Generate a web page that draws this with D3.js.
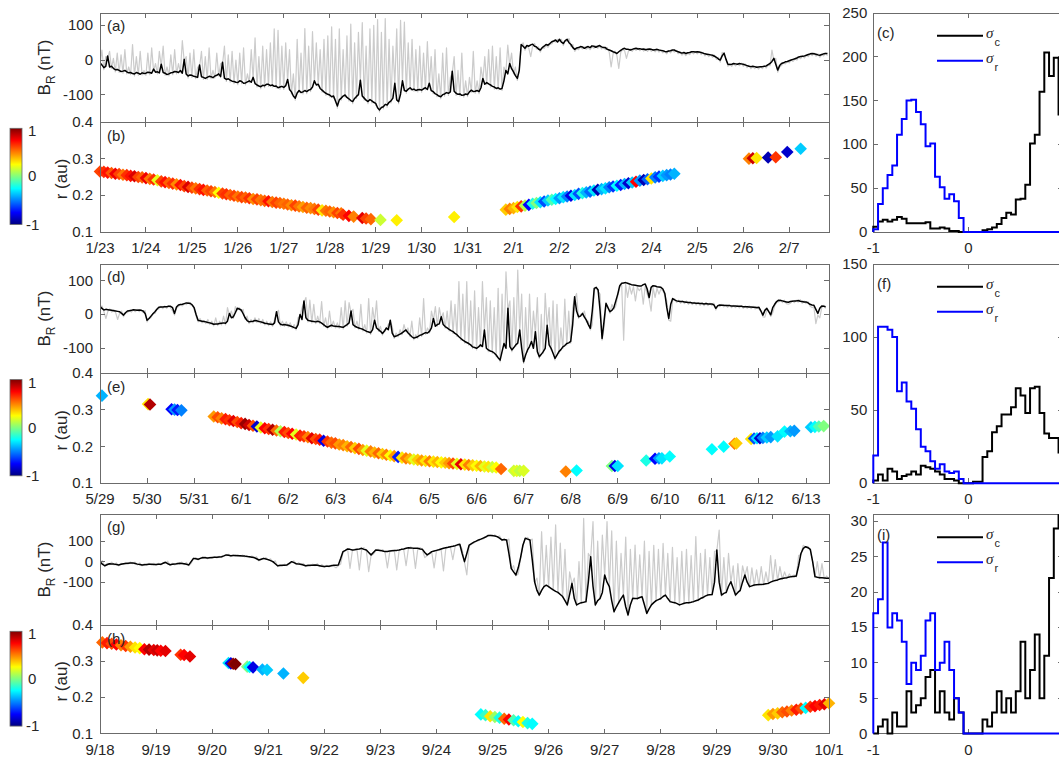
<!DOCTYPE html>
<html>
<head>
<meta charset="utf-8">
<script src="https://cdn.jsdelivr.net/npm/d3@7"></script>
<style>
  body { margin: 0; background: #fff; }
  svg { display: block; }
  text { font-family: "Liberation Sans", Arial, Helvetica, sans-serif; fill: #262626; }
</style>
</head>
<body>
<script>
// ---------------- B_R time series (nT) ----------------
// gray: full-rate hourly samples, black: smoothed hourly samples, both starting at 00:00 of the first day
const grayStepH = 1, blackStepH = 1;

const brJanBlack = [
  -8,-14,-22,-18,12,-20,-18,-24,-28,-27,-30,-33,-32,-30,-34,-37,-36,-39,-40,-36,-38,-41,-37,-39,
  -38,-35,-36,-38,-26,-35,-34,-37,-12,-36,-38,-42,-40,-37,-36,-33,-34,-36,-30,-38,2,-40,-46,-43,
  -44,-47,-48,-50,-14,-48,-50,-53,-50,-47,-48,-51,-46,-44,-40,-48,-6,-52,-56,-54,-58,-61,-62,-64,
  -65,-60,-62,-67,-66,-63,-60,-64,-50,-68,-72,-75,-77,-73,-74,-70,-70,-74,-72,-76,-75,-80,-78,-76,
  -79,-74,-56,-85,-92,-104,-110,-95,-88,-94,-92,-88,-91,-87,-85,-78,-60,-72,-70,-82,-87,-92,-96,-99,
  -101,-106,-104,-118,-133,-115,-110,-104,-101,-108,-112,-117,-120,-111,-105,-100,-58,-104,-110,-116,-120,-114,-118,-122,
  -125,-138,-144,-137,-135,-128,-130,-122,-118,-110,-67,-115,-120,-98,-60,-88,-90,-84,-80,-86,-84,-88,-86,-85,
  -87,-83,-80,-85,-67,-88,-91,-97,-100,-104,-106,-100,-98,-94,-96,-92,-32,-90,-96,-99,-98,-102,-101,-98,
  -100,-92,-87,-91,-90,-88,-91,-80,-53,-70,-65,-69,-72,-76,-78,-82,-80,-84,-82,-60,-30,-40,-10,-25,
  -34,-45,-53,-30,45,40,34,42,40,44,46,40,38,32,29,36,40,45,43,48,53,55,58,52,
  60,52,48,56,60,50,45,36,31,35,36,39,38,34,37,39,36,41,40,37,40,42,38,36,
  36,31,29,27,24,22,19,24,28,32,34,31,31,29,31,33,34,32,33,31,32,30,31,32,
  31,29,30,31,29,28,27,25,24,26,27,29,29,26,24,22,20,22,19,21,22,24,24,23,
  24,23,22,20,18,17,16,15,14,11,8,3,0,12,20,2,-12,-13,-12,-10,-11,-12,-10,-11,
  -12,-14,-16,-18,-19,-18,-19,-21,-20,-19,-19,-18,-17,-13,-10,-4,5,-12,-29,-16,-10,-8,-5,-4,
  -2,0,2,4,6,9,10,11,12,14,16,18,19,18,17,15,14,16,18,19,19
];
const brJanGray = [
  -14,29,-28,10,6,25,-24,5,-34,20,-36,15,-38,30,-40,-20,-42,45,-46,10,-44,25,-43,-30,
  -44,20,-42,35,-32,-10,-40,25,-18,40,-44,-20,-46,15,-42,30,-40,-10,-36,56,-4,10,-52,20,
  -50,30,-54,-20,-20,25,-56,10,-56,35,-54,-30,-52,20,-46,-10,-12,40,-62,15,-64,25,-68,0,
  -71,20,-68,35,-72,-40,-66,30,-56,64,-78,10,-83,40,-80,30,-76,50,-78,90,-81,86,-84,40,
  -85,50,-62,30,-98,-40,-116,60,-94,20,-98,91,-97,40,-91,82,-66,50,-76,30,-93,60,-102,70,
  -107,96,-110,60,-139,90,-116,30,-107,70,-118,104,-126,50,-111,80,-64,108,-116,40,-126,90,-124,100,
  -131,117,-150,80,-141,120,-136,60,-124,40,-73,90,-126,115,-66,110,-96,50,-86,60,-90,30,-92,40,
  -93,20,-86,53,-73,10,-97,30,-106,-40,-112,20,-104,35,-102,-50,-38,10,-102,-30,-104,20,-107,-60,
  -106,-50,-93,25,-96,-60,-97,-20,-59,10,-71,30,-78,40,-84,10,-86,35,-88,-20,-36,43,-16,20,
  -40,-20,-59,-30,39,50,28,40,34,10,40,48,32,38,23,35,34,42,37,45,47,55,52,60,
  54,60,42,55,54,62,39,45,25,33,30,38,32,38,31,36,30,38,34,42,34,40,32,38,
  30,36,23,-20,18,26,13,-24,22,30,28,5,25,32,25,33,28,35,27,33,26,32,25,31,
  25,31,24,30,23,28,21,26,18,27,21,28,23,28,18,24,14,20,13,20,16,23,18,24,
  18,24,16,22,12,18,10,15,8,14,2,8,-6,22,14,5,-18,-10,-18,-10,-17,-10,-16,-9,
  -18,-11,-22,-15,-25,-18,-25,-18,-26,-19,-25,-17,-23,-15,-16,29,-1,5,-35,-20,-16,-8,-11,-4,
  -8,0,-4,3,0,8,4,12,6,14,10,18,13,20,11,18,8,16,12,20,13
];

const brJunBlack = [
  23,18,13,15,14,13,12,11,10,9,8,3,-2,5,10,11,12,14,13,12,13,12,10,3,
  -17,-12,-5,2,8,15,21,22,22,23,23,24,24,20,3,22,28,29,30,32,34,33,33,28,
  20,0,-17,-19,-20,-21,-22,-24,-25,-27,-29,-28,-28,-27,-26,-25,-26,-20,3,-10,-7,5,18,16,
  13,2,-10,-18,-22,-21,-20,-18,-19,-21,-22,-24,-26,-27,-28,-29,-30,-25,8,-22,-29,-31,-30,-31,
  -32,-34,-36,-39,-41,-30,0,-15,40,-10,-17,-19,-20,-21,-22,-20,-22,-26,-30,-35,-38,-35,-32,-34,
  -35,-36,-36,-37,-38,-34,-30,-25,10,-30,-35,-38,-40,-42,-44,-47,-50,-52,-54,-45,-17,-40,-45,-50,
  -56,-50,-40,-45,-17,-55,-66,-64,-61,-58,-55,-50,-46,-54,-60,-66,-70,-68,-66,-62,-60,-57,-54,-55,
  -50,-40,-12,-35,-30,-28,-7,-30,-36,-40,-44,-48,-51,-56,-60,-66,-71,-76,-80,-83,-86,-90,-96,-98,
  -100,-96,-90,-95,-46,-100,-105,-108,-110,-114,-120,-128,-135,-110,-86,-100,18,-95,-105,-98,-90,-85,-46,-100,
  -140,-120,-105,-95,-80,-100,-51,-110,-125,-118,-110,-100,-32,-90,-100,-115,-130,-120,-110,-104,-96,-92,-86,-84,
  -80,-30,52,10,-7,-5,3,-8,-17,-30,-41,10,77,80,72,10,-71,-20,33,20,8,12,20,40,
  60,85,92,93,94,92,90,88,87,86,85,84,84,88,90,75,50,80,85,84,82,81,80,75,
  62,20,-12,30,47,43,40,39,38,38,37,36,35,35,34,34,33,33,32,32,31,32,31,31,
  31,28,18,26,28,27,27,26,26,26,25,25,25,24,24,24,23,23,23,22,22,21,21,20,
  21,10,-2,12,18,8,-1,20,30,38,42,41,40,38,37,36,38,39,40,40,41,39,38,37,
  37,34,30,28,27,15,3,18,25,24,23
];
const brJunGray = [
  18,25,8,-12,9,16,7,14,5,-15,3,10,-7,4,5,12,7,14,8,15,8,14,5,12,
  -22,-12,-10,2,3,14,16,24,17,25,18,26,19,10,-2,18,23,30,25,32,29,36,28,30,
  15,-5,-22,-12,-25,-18,-27,-15,-30,-20,-34,-10,-33,-20,-31,-5,-31,20,-2,10,-12,23,13,20,
  8,15,-15,-5,-27,-15,-25,-10,-24,-12,-27,-15,-31,-20,-33,-22,-35,-15,3,12,-34,-20,-35,-22,
  -37,-25,-41,-30,-46,-10,-5,20,35,50,-22,42,-25,30,-27,-5,-27,38,-35,-10,-43,10,-37,-20,
  -40,-25,-41,20,-43,40,-35,35,5,15,-40,-20,-45,30,-49,-30,-55,47,-59,20,-22,40,-50,-35,
  -61,-45,-45,-30,-22,-35,-71,-55,-66,-45,-60,-30,-51,-40,-65,-20,-75,-60,-71,-10,-65,47,-59,-40,
  -55,10,-17,23,-35,20,-12,5,-41,10,-49,40,-56,30,-65,97,-76,60,-85,97,-91,40,-101,70,
  -105,20,-95,97,-51,50,-110,40,-115,20,-125,77,-140,60,-91,126,13,40,-110,50,-95,131,-51,60,
  -145,20,-110,60,-85,10,-56,50,-130,0,-115,62,-37,20,-105,40,-135,30,-115,-40,-101,45,-91,10,
  -85,20,47,62,-12,0,-2,10,-22,-20,-46,-30,72,80,67,60,-76,-40,28,20,3,30,15,25,
  55,80,87,-76,89,50,85,60,82,40,80,70,79,30,85,60,45,10,80,50,77,60,75,70,
  57,40,-17,-20,42,46,35,42,33,40,32,40,30,37,29,36,28,35,27,35,26,34,26,33,
  26,33,13,25,23,30,22,29,21,28,20,27,20,27,19,26,18,25,18,25,17,24,16,23,
  16,10,-7,-8,13,10,-6,5,25,36,37,44,35,42,32,30,33,40,35,42,36,44,33,40,
  32,38,25,20,22,-27,-2,-10,20,27,18
];

const brSepBlack = [
  0,-12,-20,-15,-10,-11,-12,-14,-16,-13,-10,-9,-8,-7,-6,-9,-12,-14,-16,-15,-14,-13,-13,-14,
  -14,-13,-13,-8,-3,-10,-15,-13,-12,-10,-8,-9,-10,-13,-16,0,16,14,12,16,20,19,18,19,
  20,21,22,23,24,28,33,31,29,30,30,29,29,28,27,25,24,22,20,14,8,12,16,13,
  10,5,0,-10,-20,-19,-18,-17,-16,-8,0,-5,-10,-12,-13,-16,-20,-19,-18,-17,-16,-18,-20,-22,
  -24,-23,-22,-20,-18,-17,-16,15,49,55,62,60,57,58,60,62,65,60,57,45,33,45,57,56,
  55,52,49,50,52,53,54,55,57,60,62,65,68,67,66,66,65,62,60,45,33,40,49,52,
  55,58,62,65,68,70,73,75,78,82,85,40,0,40,81,88,95,100,106,110,115,120,127,128,
  127,125,122,115,106,108,106,40,-33,-50,-65,-30,20,80,114,110,106,10,-98,-140,-163,-140,-122,-115,
  -122,-130,-138,-145,-150,-160,-170,-190,-211,-160,-106,-180,-211,-205,-200,-198,-195,-100,24,-120,-211,-190,-180,-150,
  -65,-100,-122,-190,-244,-220,-200,-180,-163,-220,-260,-210,-179,-180,-180,-175,-171,-210,-252,-230,-211,-200,-190,-185,
  -180,-170,-163,-180,-195,-198,-200,-205,-211,-207,-203,-201,-200,-198,-195,-191,-187,-180,-175,-168,-163,-161,-160,-100,
  57,-100,-163,-155,-150,-120,-98,-130,-163,-150,-140,-100,-65,-100,-122,-118,-114,-113,-112,-111,-110,-108,-106,-100,
  -95,-92,-89,-85,-82,-80,-78,-75,-73,-72,-70,-20,40,65,73,68,60,0,-73,-76,-78,-79,-80,-81,
  -81
];
const brSepGray = [
  -4,5,-24,-8,-14,-2,-16,-6,-20,-8,-14,-4,-12,-2,-10,-2,-16,-6,-20,-10,-18,-8,-17,-8,
  -18,-8,-17,-6,-7,2,-19,-8,-16,-6,-12,-2,-14,-4,-20,-8,12,20,8,18,16,24,14,22,
  16,24,18,26,20,28,29,36,25,33,26,34,25,32,23,30,20,28,16,24,4,12,12,20,
  6,14,-4,4,-24,-14,-22,-12,-20,-12,-4,4,-14,-5,-17,-8,-24,-14,-22,-12,-20,-10,-24,-14,
  -28,-18,-26,-16,-22,-30,-20,-12,45,53,58,-33,53,61,56,-40,61,69,53,-49,29,37,53,61,
  51,59,45,-30,48,56,50,-40,53,61,58,-20,64,72,62,-33,61,69,56,20,29,37,45,-30,
  51,59,58,-45,64,72,69,10,74,82,81,60,-4,-65,77,85,91,99,102,110,111,119,123,130,
  123,131,118,126,102,110,102,110,-37,-20,-69,-60,16,80,110,118,102,110,-102,-80,-167,146,-126,80,
  -126,120,-142,179,-154,90,-174,60,-215,-50,-110,-80,-215,0,-204,211,-199,40,20,195,-215,100,-184,130,
  -69,195,-126,150,-248,100,-204,40,-167,120,-264,60,-183,81,-184,33,-175,100,-256,50,-215,80,-194,60,
  -184,89,-167,40,-199,70,-204,20,-215,50,-207,60,-204,30,-199,122,-191,40,-179,60,-167,20,-164,50,
  53,154,-167,20,-154,40,-102,-20,-167,-10,-144,-20,-69,-24,-126,-30,-118,-40,-116,-24,-114,-50,-110,30,
  -99,10,-93,-24,-86,-50,-82,-60,-77,-65,-74,30,36,80,69,75,56,0,-77,0,-82,-10,-84,-70,
  -85
];

// ---------------- heliocentric distance r (au) with sigma colour ----------------
// continuous stretches: start hour, 2-hour cadence
const trackStepH = 2;
const janTrackStartH = 0;
const janTrackR = [
  .265,.264,.262,.261,.259,.258,.256,.255,.253,.252,.250,.249,
  .247,.245,.243,.241,.238,.236,.234,.232,.230,.228,.225,.223,
  .221,.219,.217,.215,.213,.211,.209,.207,.205,.203,.201,.199,
  .197,.195,.194,.192,.190,.189,.187,.185,.184,.182,.180,.179,
  .177,.175,.173,.172,.170,.168,.166,.165,.163,.161,.159,.158,
  .156,.154,.152,.151
];
const janTrackSigma = [
  .62,.66,.72,.58,.78,.62,.52,.66,.72,.82,.62,.56,
  .78,.52,.66,.2,.62,.72,.56,.66,.48,.72,.62,.82,
  .62,.52,.66,.72,.56,.62,.52,.25,.62,.66,.56,.62,
  .52,.62,.56,.66,.48,.62,.52,.56,.72,.52,.62,.56,
  .52,.56,.48,.62,.52,.44,.56,.48,.52,.62,.3,.52,
  .56,.48,.62,.52
];
const janTrack2StartH = 212;
const janTrack2R = [
  .161,.163,.165,.168,.170,.172,.174,.177,.179,.181,
  .183,.186,.188,.190,.192,.195,.197,.199,.201,.204,
  .206,.208,.210,.213,.215,.217,.219,.222,.224,.226,
  .228,.231,.233,.235,.237,.240,.242,.244,.246,.249,
  .251,.253,.255,.257,.259
];
const janTrack2Sigma = [
  .35,.5,.4,.3,.65,.1,-.75,-.2,0,-.3,
  -.6,-.35,-.1,-.25,-.45,-.3,-.5,-.8,-.3,-.6,
  -.2,-.4,-.55,-.3,-.9,-.4,-.3,-.5,-.65,-.25,
  -.7,-.4,-.85,-.35,.75,-.45,-.9,-.55,.3,-.5,
  -.65,-.35,-.45,-.5,-.4
];
// isolated samples: [hour, r, sigma]
const janSingles = [
  [127,.147,.65],[130,.144,.75],[132.5,.142,.5],[137,.138,.8],[139,.137,.62],[141.5,.135,.55],
  [146.5,.133,.15],[155,.132,.28],[185,.141,.28],
  [339,.300,.5],[341,.301,.85],[343,.302,.3],[349,.303,-.9],[353,.304,.65],[359,.318,-.85],[366,.327,-.35]
];

const junTrackStartH = 58;
const junTrackR = [
  .282,.280,.277,.275,.272,.270,.267,
  .264,.262,.259,.257,.255,.252,.250,.248,.246,.244,.242,.240,
  .237,.235,.233,.230,.228,.226,.223,.221,.219,.216,.214,.211,
  .209,.206,.204,.201,.199,.196,.194,.191,.189,.187,.184,.182,
  .180,.178,.176,.174,.172,.170,.168,.167,.165,.164,.162,.161,
  .160,.159,.158,.157,.156,.155,.154,.153,.152,.151,.150,.149,
  .148,.147,.146,.145,.144,.143
];
const junTrackSigma = [
  .45,.6,.5,.7,.65,.8,.6,
  .7,.95,.85,.6,-.85,.2,.75,.65,.9,.55,.1,.7,
  .6,.75,.2,.7,.65,.5,.8,.6,.7,-.8,.65,.55,
  .6,.45,.5,.4,.55,.35,.6,.45,.2,.5,.4,.55,
  .35,.5,.25,.45,-.7,.3,.5,.4,.2,.35,.45,.3,
  .5,.3,.4,.25,.35,.45,.6,.2,.8,.3,.5,.35,
  .25,.4,.2,.3,.15,.25
];
const junSingles = [
  [1,.339,-.4],[24.5,.316,.3],[25.5,.315,.9],[36.5,.302,-.75],[38,.301,-.45],[39.5,.300,-.7],[41.5,.299,-.5],
  [204.5,.139,.55],[211,.134,.15],[212.5,.134,.2],[214,.134,.12],[216,.134,.18],
  [237.5,.132,.5],[243,.135,-.25],
  [261,.147,0],[262.5,.147,-.8],[264,.147,-.3],
  [278.5,.162,-.2],[283,.167,-.75],[285,.168,-.45],[286.5,.168,-.3],[290.5,.173,-.25],
  [312,.193,-.25],[318,.200,-.25],[323.5,.208,.5],[324.5,.209,.35],
  [332,.221,.3],[333.5,.222,-.6],[335,.223,-.3],[336.5,.223,-.85],[338,.224,-.5],[340,.225,-.35],[342,.226,-.45],[345.5,.228,-.3],
  [349,.241,-.25],[352,.242,-.4],[354,.243,-.45],
  [362.5,.253,-.35],[364.5,.254,-.25],[366.5,.255,-.1],[369,.256,0]
];

const sepTrackStartH = 163;
const sepTrackR = [.153,.151,.148,.146,.144,.141,.139,.137,.134,.132,.129,.127];
const sepTrackSigma = [-.25,-.15,.3,.05,-.2,.55,.75,-.1,-.25,.25,-.2,-.25];
const sepTrack2StartH = 286;
const sepTrack2R = [.151,.154,.156,.159,.161,.164,.166,.169,.171,.174,.176,.179,.181,.184];
const sepTrack2Sigma = [.3,.45,.35,.55,.6,.5,.7,.6,-.25,.65,.75,.7,.8,.4];
const sepSingles = [
  [1,.352,.55],[3,.350,.7],[5,.348,.6],[7,.346,.75],[9,.344,.5],[11,.342,.65],[13,.340,.45],[15,.338,.3],[17,.336,.25],
  [19,.333,.75],[21,.332,.9],[23,.331,.8],[24.5,.330,.85],[26,.329,.75],[28,.328,.8],
  [34.5,.318,.65],[36,.317,.75],[38.5,.313,.8],
  [55,.295,-.3],[56,.294,-.8],[57,.293,.95],[58,.292,1],
  [63,.285,0],[64,.284,-.25],[65.5,.283,-.8],
  [69.5,.277,-.4],[71.5,.276,-.35],[78.5,.266,-.4],[87,.254,.35]
];

// ---------------- histograms of sigma_c and sigma_r (bins of 0.05 on [-1, 1]) ----------------
const binStart = -1, binWidth = 0.05;
const histJanC = [6,12,14,12,14,17,15,10,10,10,10,11,4,4,5,4,1,1,0,0,
                  0,0,0,2,3,5,9,16,22,20,37,38,54,101,111,160,205,178,199,134];
const histJanR = [3,32,50,65,76,111,129,150,151,137,123,98,101,63,51,38,43,35,16,0,
                  0,0,0,0,0,0,0,0,0,0,0,0,0,0,0,0,0,0,0,0];
const histJunC = [2,6,2,10,8,3,5,6,8,6,12,11,10,8,6,3,3,2,0,0,
                  0,1,1,18,22,35,39,47,47,52,65,60,48,65,66,48,34,31,31,21];
const histJunR = [19,107,107,105,100,63,69,56,51,37,25,22,15,10,13,8,7,8,3,0,
                  0,0,0,0,0,0,0,0,0,0,0,0,0,0,0,0,0,0,0,0];
const histSepC = [0,1,2,0,3,1,1,6,3,4,5,8,9,3,6,3,2,5,3,0,
                  0,0,0,2,1,3,6,3,5,3,6,13,5,9,14,5,11,22,29,35];
const histSepR = [17,19,27,15,17,16,13,7,10,9,11,16,17,9,10,13,9,5,3,0,
                  0,0,0,0,0,0,0,0,0,0,0,0,0,0,0,0,0,0,0,0];

// ---------------- axis labels ----------------
const datesJan = ["1/23","1/24","1/25","1/26","1/27","1/28","1/29","1/30","1/31","2/1","2/2","2/3","2/4","2/5","2/6","2/7"];
const datesJun = ["5/29","5/30","5/31","6/1","6/2","6/3","6/4","6/5","6/6","6/7","6/8","6/9","6/10","6/11","6/12","6/13"];
const datesSep = ["9/18","9/19","9/20","9/21","9/22","9/23","9/24","9/25","9/26","9/27","9/28","9/29","9/30","10/1"];
const brTicks = [-100, 0, 100];
const rTicks = [0.1, 0.2, 0.3, 0.4];
const sigmaTicks = [-1, 0, 1];
const cbTicks = [-1, 0, 1];
const histTicksJan = [0,50,100,150,200,250];
const histTicksJun = [0,50,100,150];
const histTicksSep = [0,5,10,15,20,25,30];

// ---------------- layout ----------------
const W = 1059, H = 758;
const LEFT = 100, RIGHT = 829;
const HIST_L = 873.3, HIST_R = 1063.3;
const AXIS = "#6b6b6b";
const TICK_LEN = 5;
const XLAB_OFF = 21;

const svg = d3.select("body").append("svg").attr("width", W).attr("height", H);
const defs = svg.append("defs");

// MATLAB-style jet colour map on [-1, 1]
function jet(t) {
  const c = v => Math.max(0, Math.min(1, v));
  const r = c(Math.min(4 * t - 1.5, -4 * t + 4.5));
  const g = c(Math.min(4 * t - 0.5, -4 * t + 3.5));
  const b = c(Math.min(4 * t + 0.5, -4 * t + 2.5));
  return d3.rgb(r * 255, g * 255, b * 255).formatHex();
}
const sigmaColor = d3.scaleSequential(jet).domain([-1, 1]);

function line(g, x1, y1, x2, y2) {
  g.append("line").attr("x1", x1).attr("y1", y1).attr("x2", x2).attr("y2", y2)
    .attr("stroke", AXIS).attr("stroke-width", 1).attr("shape-rendering", "crispEdges");
}
function box(g, x0, x1, y0, y1, xs, ys) {
  g.append("rect").attr("x", x0).attr("y", y0).attr("width", x1 - x0).attr("height", y1 - y0)
    .attr("fill", "none").attr("stroke", AXIS).attr("stroke-width", 1).attr("shape-rendering", "crispEdges");
  xs.forEach(px => { line(g, px, y0, px, y0 + TICK_LEN); line(g, px, y1, px, y1 - TICK_LEN); });
  ys.forEach(py => { line(g, x0, py, x0 + TICK_LEN, py); line(g, x1, py, x1 - TICK_LEN, py); });
}
function label(g, x, y, str, anchor, size) {
  return g.append("text").attr("x", x).attr("y", y).attr("text-anchor", anchor || "start")
    .style("font-size", (size || 15) + "px").text(str);
}

const rows = [
  { key: "jan", top: 13, mid: 122, bot: 232, spanH: 380.8, brDomain: [-179, 136],
    black: brJanBlack, gray: brJanGray, dates: datesJan,
    tracks: [[janTrackStartH, janTrackR, janTrackSigma], [janTrack2StartH, janTrack2R, janTrack2Sigma]],
    singles: janSingles, labels: ["(a)", "(b)", "(c)"],
    hist: { c: histJanC, r: histJanR, max: 250, ticks: histTicksJan, labelY: 38, legY: 35.7 } },
  { key: "jun", top: 264, mid: 373.3, bot: 483.3, spanH: 371.7, brDomain: [-174, 149],
    black: brJunBlack, gray: brJunGray, dates: datesJun,
    tracks: [[junTrackStartH, junTrackR, junTrackSigma]],
    singles: junSingles, labels: ["(d)", "(e)", "(f)"],
    hist: { c: histJunC, r: histJunR, max: 150, ticks: histTicksJun, labelY: 289, legY: 286.7 } },
  { key: "sep", top: 514.3, mid: 625, bot: 733.6, spanH: 312, brDomain: [-309, 231],
    black: brSepBlack, gray: brSepGray, dates: datesSep,
    tracks: [[sepTrackStartH, sepTrackR, sepTrackSigma], [sepTrack2StartH, sepTrack2R, sepTrack2Sigma]],
    singles: sepSingles, labels: ["(g)", "(h)", "(i)"],
    hist: { c: histSepC, r: histSepR, max: 31, ticks: histTicksSep, labelY: 540, legY: 537.3 } }
];

const diamond = "M0,-6.3L6.3,0L0,6.3L-6.3,0Z";

rows.forEach(p => {
  const x = d3.scaleLinear().domain([0, p.spanH]).range([LEFT, RIGHT]);
  const dayTicks = p.dates.map((d, i) => i * 24);
  const xs = dayTicks.map(x);

  // ---- B_R panel ----
  const yB = d3.scaleLinear().domain(p.brDomain).range([p.mid, p.top]);
  const clipId = "clip-br-" + p.key;
  defs.append("clipPath").attr("id", clipId).append("rect")
    .attr("x", LEFT).attr("y", p.top).attr("width", RIGHT - LEFT).attr("height", p.mid - p.top);
  const gB = svg.append("g");
  const plot = gB.append("g").attr("clip-path", `url(#${clipId})`);
  plot.append("path").datum(p.gray)
    .attr("d", d3.line().x((d, i) => x(i * grayStepH)).y(d => yB(d)))
    .attr("fill", "none").attr("stroke", "#cbcbcb").attr("stroke-width", 1.2).attr("stroke-linejoin", "round");
  plot.append("path").datum(p.black)
    .attr("d", d3.line().x((d, i) => x(i * blackStepH)).y(d => yB(d)))
    .attr("fill", "none").attr("stroke", "#000").attr("stroke-width", 1.5).attr("stroke-linejoin", "round");
  box(gB, LEFT, RIGHT, p.top, p.mid, xs, brTicks.map(yB));
  brTicks.forEach(v => label(gB, LEFT - 7, yB(v) + 5, String(v), "end"));
  label(gB, 107, p.top + 18, p.labels[0], "start", 15);
  const tB = gB.append("text").attr("transform", `translate(50,${(p.top + p.mid) / 2}) rotate(-90)`)
    .attr("text-anchor", "middle").style("font-size", "17px");
  tB.append("tspan").text("B");
  tB.append("tspan").attr("dy", 5).style("font-size", "12px").text("R");
  tB.append("tspan").attr("dy", -5).text(" (nT)");

  // ---- r panel ----
  const yR = d3.scaleLinear().domain([0.1, 0.4]).range([p.bot, p.mid]);
  const gR = svg.append("g");
  const pts = [];
  p.tracks.forEach(([h0, rs, ss]) => rs.forEach((r, i) => pts.push([h0 + i * trackStepH, r, ss[i]])));
  p.singles.forEach(s => pts.push(s));
  pts.sort((a, b) => a[0] - b[0]);
  gR.selectAll("path.pt").data(pts).enter().append("path").attr("class", "pt")
    .attr("d", diamond)
    .attr("transform", d => `translate(${x(d[0])},${yR(d[1])})`)
    .attr("fill", d => sigmaColor(d[2]));
  box(gR, LEFT, RIGHT, p.mid, p.bot, xs, rTicks.map(yR));
  rTicks.forEach(v => label(gR, LEFT - 7, yR(v) + 5, v.toFixed(1), "end"));
  p.dates.forEach((d, i) => label(gR, x(dayTicks[i]), p.bot + XLAB_OFF, d, "middle"));
  label(gR, 107, p.mid + 19, p.labels[1], "start", 15);
  gR.append("text").attr("transform", `translate(67,${(p.mid + p.bot) / 2 + 2}) rotate(-90)`)
    .attr("text-anchor", "middle").style("font-size", "17px").text("r (au)");

  // colour bar
  const cbTop = p.mid + 6.3, cbBot = p.bot - 7.5;
  const gradId = "jet-" + p.key;
  const grad = defs.append("linearGradient").attr("id", gradId)
    .attr("x1", 0).attr("y1", 1).attr("x2", 0).attr("y2", 0);
  d3.range(0, 65).forEach(i => {
    const v = -1 + 2 * i / 64;
    grad.append("stop").attr("offset", (i / 64)).attr("stop-color", sigmaColor(v));
  });
  gR.append("rect").attr("x", 10).attr("y", cbTop).attr("width", 12).attr("height", cbBot - cbTop)
    .attr("fill", `url(#${gradId})`).attr("stroke", AXIS).attr("stroke-width", 0.8);
  const yCb = d3.scaleLinear().domain([-1, 1]).range([cbBot, cbTop]);
  cbTicks.forEach(v => {
    const yy = v === 1 ? yCb(v) + 3 : yCb(v);
    label(gR, v < 0 ? 26 : 28, yy + 5, String(v), "start", 15);
  });

  // ---- histogram panel ----
  const hx = d3.scaleLinear().domain([-1, 1]).range([HIST_L, HIST_R]);
  const hy = d3.scaleLinear().domain([0, p.hist.max]).range([p.bot, p.top]);
  const hClip = "clip-h-" + p.key;
  defs.append("clipPath").attr("id", hClip).append("rect")
    .attr("x", HIST_L - 2).attr("y", p.top).attr("width", HIST_R - HIST_L + 4).attr("height", p.bot - p.top + 2);
  const gH = svg.append("g");
  const stairs = vals => {
    const s = [[binStart, 0]];
    vals.forEach((v, i) => s.push([binStart + i * binWidth, v]));
    s.push([binStart + vals.length * binWidth, vals[vals.length - 1]]);
    s.push([binStart + vals.length * binWidth, 0]);
    return s;
  };
  const stairLine = d3.line().x(d => hx(d[0])).y(d => hy(d[1])).curve(d3.curveStepAfter);
  box(gH, HIST_L, HIST_R, p.top, p.bot, sigmaTicks.map(hx), p.hist.ticks.map(hy));
  const hp = gH.append("g").attr("clip-path", `url(#${hClip})`);
  hp.append("path").datum(stairs(p.hist.c)).attr("d", stairLine)
    .attr("fill", "none").attr("stroke", "#000").attr("stroke-width", 2);
  hp.append("path").datum(stairs(p.hist.r)).attr("d", stairLine)
    .attr("fill", "none").attr("stroke", "#0000ff").attr("stroke-width", 2);
  p.hist.ticks.forEach(v => label(gH, HIST_L - 6, hy(v) + 5, String(v), "end"));
  // the tick label at +1 falls outside the figure, only the visible ones are written
  sigmaTicks.filter(v => hx(v) < W - 8)
    .forEach(v => label(gH, hx(v), p.bot + XLAB_OFF, String(v), "middle"));
  label(gH, 877, p.hist.labelY, p.labels[2], "start", 15);

  // legend
  [["#000", "c", 0], ["#0000ff", "r", 25]].forEach(([col, sub, dy]) => {
    const ly = p.hist.legY + dy;
    gH.append("line").attr("x1", 937).attr("x2", 983).attr("y1", ly).attr("y2", ly)
      .attr("stroke", col).attr("stroke-width", 2);
    const t = gH.append("text").attr("x", 986).attr("y", ly + 2).style("font-size", "15px");
    t.append("tspan").style("font-family", "'Liberation Serif', 'Times New Roman', serif")
      .style("font-style", "italic").text("σ");
    t.append("tspan").attr("dy", 8).attr("dx", 1).style("font-size", "11px").text(sub);
  });
});
</script>
</body>
</html>
